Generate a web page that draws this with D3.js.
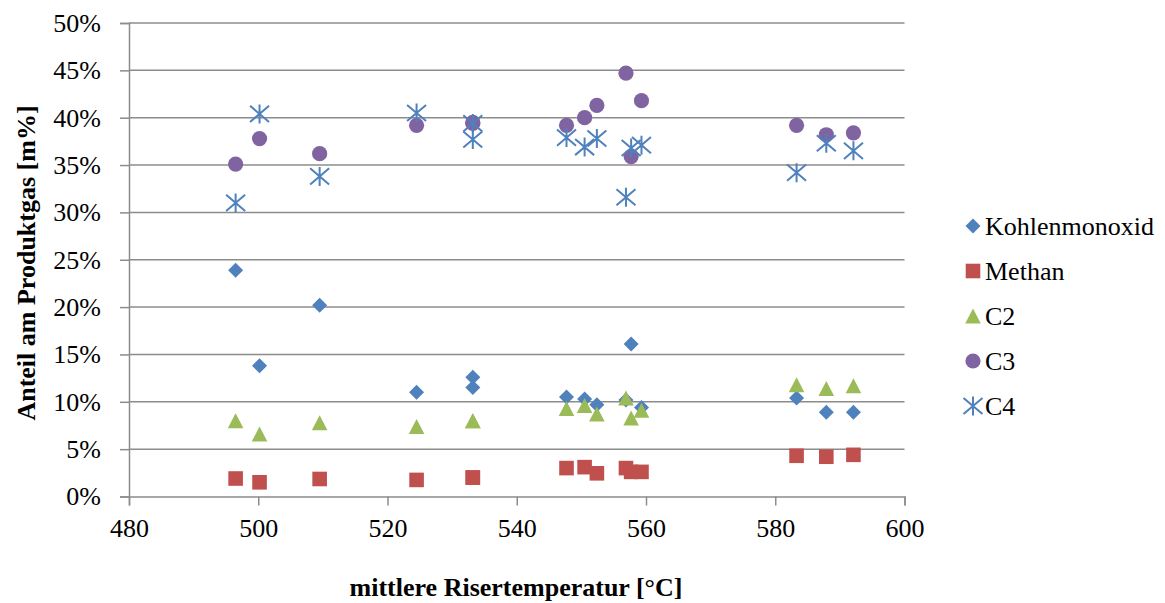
<!DOCTYPE html>
<html>
<head>
<meta charset="utf-8">
<script src="https://cdn.jsdelivr.net/npm/d3@7"></script>
<style>
  html, body { margin: 0; padding: 0; background: #fff; }
  svg { display: block; }
  svg text { font-family: "Times New Roman", "Liberation Serif", serif; fill: #000; }
</style>
</head>
<body>
<svg id="chart" width="1165" height="603"></svg>
<script>
// Mean riser temperature of each run [°C]
const temperatures = [496.5, 500.2, 509.5, 524.5, 533.2, 533.2, 547.7, 550.5, 552.4, 556.9, 557.7, 559.3, 583.3, 587.9, 592.1];

// Mass fractions in the product gas [%]
const kohlenmonoxid = [23.9, 13.8, 20.2, 11.0, 12.6, 11.5, 10.5, 10.3, 9.7, 10.2, 16.1, 9.4, 10.4, 8.9, 8.9];
const methan        = [1.9, 1.5, 1.85, 1.75, 2.0, 2.0, 3.0, 3.1, 2.45, 3.0, 2.6, 2.6, 4.3, 4.2, 4.4];
const c2            = [8.0, 6.6, 7.8, 7.4, 8.0, 8.0, 9.3, 9.6, 8.7, 10.4, 8.3, 9.1, 11.8, 11.4, 11.7];
const c3            = [35.1, 37.8, 36.2, 39.2, 39.5, 39.4, 39.2, 40.0, 41.3, 44.7, 35.9, 41.8, 39.2, 38.2, 38.4];
const c4            = [31.0, 40.4, 33.8, 40.5, 39.4, 37.7, 37.9, 36.9, 37.8, 31.6, 36.8, 37.1, 34.2, 37.3, 36.5];

const seriesNames = ["Kohlenmonoxid", "Methan", "C2", "C3", "C4"];
const xTicks = [480, 500, 520, 540, 560, 580, 600];
const yTicks = [0, 5, 10, 15, 20, 25, 30, 35, 40, 45, 50];

const series = [
  { name: seriesNames[0], values: kohlenmonoxid, shape: "diamond",  color: "#4F81BD" },
  { name: seriesNames[1], values: methan,        shape: "square",   color: "#C0504D" },
  { name: seriesNames[2], values: c2,            shape: "triangle", color: "#9BBB59" },
  { name: seriesNames[3], values: c3,            shape: "circle",   color: "#8064A2" },
  { name: seriesNames[4], values: c4,            shape: "star",     color: "#4F81BD" }
];

const FONT = "serif";
const svg = d3.select("#chart");
const plot = { left: 129, right: 904.5, top: 23, bottom: 496.5 };

const x = d3.scaleLinear().domain([480, 600]).range([plot.left, plot.right]);
const y = d3.scaleLinear().domain([0, 50]).range([plot.bottom, plot.top]);

const gridColor = "#8c8c8c";

// Horizontal gridlines
svg.append("g")
  .selectAll("line")
  .data(yTicks.filter(v => v > 0))
  .join("line")
  .attr("x1", plot.left).attr("x2", plot.right)
  .attr("y1", d => y(d)).attr("y2", d => y(d))
  .attr("stroke", gridColor).attr("stroke-width", 1.5);

// Y axis
const yAxis = svg.append("g")
  .attr("transform", `translate(${plot.left},0)`)
  .call(d3.axisLeft(y).tickValues(yTicks).tickSize(9).tickPadding(19).tickFormat(d => d + "%"));
yAxis.attr("font-family", null).attr("font-size", null);
yAxis.select(".domain").attr("stroke", gridColor).attr("stroke-width", 1.5);
yAxis.selectAll(".tick line").attr("stroke", gridColor).attr("stroke-width", 1.5);
yAxis.selectAll(".tick text")
  .style("font-family", FONT).style("font-size", "26px").attr("fill", "#000");

// X axis
const xAxis = svg.append("g")
  .attr("transform", `translate(0,${plot.bottom})`)
  .call(d3.axisBottom(x).tickValues(xTicks).tickSize(9).tickPadding(13).tickFormat(d3.format("d")));
xAxis.attr("font-family", null).attr("font-size", null);
xAxis.select(".domain").attr("stroke", gridColor).attr("stroke-width", 1.5);
xAxis.selectAll(".tick line").attr("stroke", gridColor).attr("stroke-width", 1.5);
xAxis.selectAll(".tick text")
  .style("font-family", FONT).style("font-size", "26px").attr("fill", "#000");

// Axis titles
svg.append("text")
  .attr("x", 516).attr("y", 596)
  .attr("text-anchor", "middle")
  .style("font-family", FONT).style("font-size", "26px").style("font-weight", "bold")
  .text("mittlere Risertemperatur [°C]");

svg.append("text")
  .attr("transform", "translate(35,263) rotate(-90)")
  .attr("text-anchor", "middle")
  .style("font-family", FONT).style("font-size", "26px").style("font-weight", "bold")
  .text("Anteil am Produktgas [m%]");

// Marker drawing
function drawMarker(g, shape, color) {
  if (shape === "diamond") {
    const h = 7.5;
    g.append("path").attr("d", `M0,${-h}L${h},0L0,${h}L${-h},0Z`).attr("fill", color);
  } else if (shape === "square") {
    const h = 7.3;
    g.append("rect").attr("x", -h).attr("y", -h).attr("width", 2 * h).attr("height", 2 * h)
      .attr("fill", color);
  } else if (shape === "triangle") {
    const w = 7.8, hh = 15;
    g.append("path").attr("d", `M0,${-hh / 2}L${w},${hh / 2}L${-w},${hh / 2}Z`)
      .attr("fill", color);
  } else if (shape === "circle") {
    g.append("circle").attr("r", 7.6).attr("fill", color);
  } else if (shape === "star") {
    const r = 9.5;
    const d = `M0,${-r}L0,${r}M${-r},${-r * 0.85}L${r},${r * 0.85}M${-r},${r * 0.85}L${r},${-r * 0.85}`;
    g.append("path").attr("d", d).attr("stroke", color).attr("stroke-width", 2).attr("fill", "none");
  }
}

// Data points
const marks = svg.append("g");
series.forEach(sr => {
  const grp = marks.append("g").attr("class", "series");
  sr.values.forEach((v, i) => {
    const g = grp.append("g").attr("transform", `translate(${x(temperatures[i])},${y(v)})`);
    drawMarker(g, sr.shape, sr.color);
  });
});

// Legend
const legend = svg.append("g").attr("transform", "translate(973,226)");
series.forEach((sr, i) => {
  const row = legend.append("g").attr("transform", `translate(0,${i * 45})`);
  drawMarker(row.append("g"), sr.shape, sr.color);
  row.append("text").attr("x", 12).attr("y", 9)
    .style("font-family", FONT).style("font-size", "26px").attr("fill", "#000").text(sr.name);
});
</script>
</body>
</html>
